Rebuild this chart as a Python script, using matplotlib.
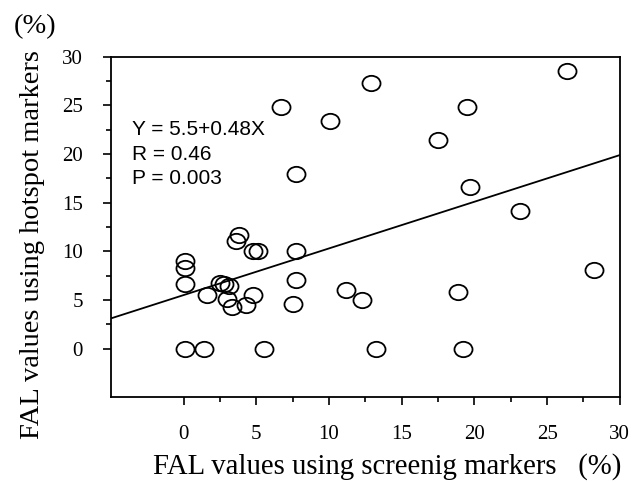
import numpy as np
import matplotlib
matplotlib.use("Agg")
import matplotlib.pyplot as plt
from matplotlib.path import Path
from matplotlib.transforms import Affine2D

# FAL values (%)
screening = [0.1, 1.4, 5.5, 13.2, 19.2,
             0.1, 0.1, 0.1,
             1.6, 2.5, 2.8, 3.1, 3.0, 3.3,
             3.8, 3.6, 4.8, 5.1, 4.3, 4.8,
             7.7, 7.7, 7.5, 11.2, 12.3, 18.9, 28.2,
             6.7, 10.1, 12.9, 7.7, 26.4, 19.5, 17.5, 19.7, 23.1]
hotspot = [0.0, 0.0, 0.0, 0.0, 0.0,
           9.0, 8.3, 6.6,
           5.5, 6.7, 6.6, 6.4, 5.1, 4.3,
           11.7, 11.1, 10.0, 10.0, 4.5, 5.5,
           10.0, 7.0, 4.6, 6.0, 5.0, 5.8, 8.1,
           24.8, 23.4, 27.3, 18.0, 28.5, 24.8, 21.4, 16.6, 14.1]

intercept = 5.5
slope = 0.48
fit_x = np.array([-5, 30])
fit_y = intercept + slope * fit_x

stats_text = "Y = 5.5+0.48X\nR = 0.46\nP = 0.003"

# slightly flattened circle marker
ellipse = Path.unit_circle().transformed(Affine2D().scale(1.0, 0.85))

fig = plt.figure(figsize=(6.41, 4.82), dpi=100)
ax = fig.add_axes([0.173, 0.176, 0.794, 0.706])

ax.plot(screening, hotspot, linestyle="none", marker=ellipse, markersize=13,
        markerfacecolor="none", markeredgecolor="black", markeredgewidth=1.3)
ax.plot(fit_x, fit_y, color="black", linewidth=1.3)

ax.set_xlim(-5, 30)
ax.set_ylim(-5, 30)
ax.set_xticks(np.arange(0, 31, 5))
ax.set_yticks(np.arange(0, 31, 5))
ax.set_xticks(np.arange(0, 30.1, 2.5), minor=True)
ax.set_yticks(np.arange(0, 30.1, 2.5), minor=True)
ax.tick_params(which="major", direction="out", length=6, width=1.2, pad=14,
               labelsize=15, labelfontfamily="Liberation Serif")
ax.tick_params(which="minor", direction="out", length=3.5, width=1.2)
for s in ax.spines.values():
    s.set_linewidth(1.3)

ax.text(0.041, 0.815, stats_text, transform=ax.transAxes, va="top", ha="left",
        fontsize=15, family="Liberation Sans", linespacing=1.38)

fig.text(0.604, 0.033, "FAL values using screenig markers   (%)", ha="center",
         va="center", fontsize=20.7, family="Liberation Serif")
fig.text(0.05, 0.492, "FAL values using hotspot markers", ha="center",
         va="center", rotation=90, fontsize=20.5, family="Liberation Serif")
fig.text(0.054, 0.945, "(%)", ha="center", va="center", fontsize=20.5,
         family="Liberation Serif")

fig.savefig("out.png", dpi=100)
